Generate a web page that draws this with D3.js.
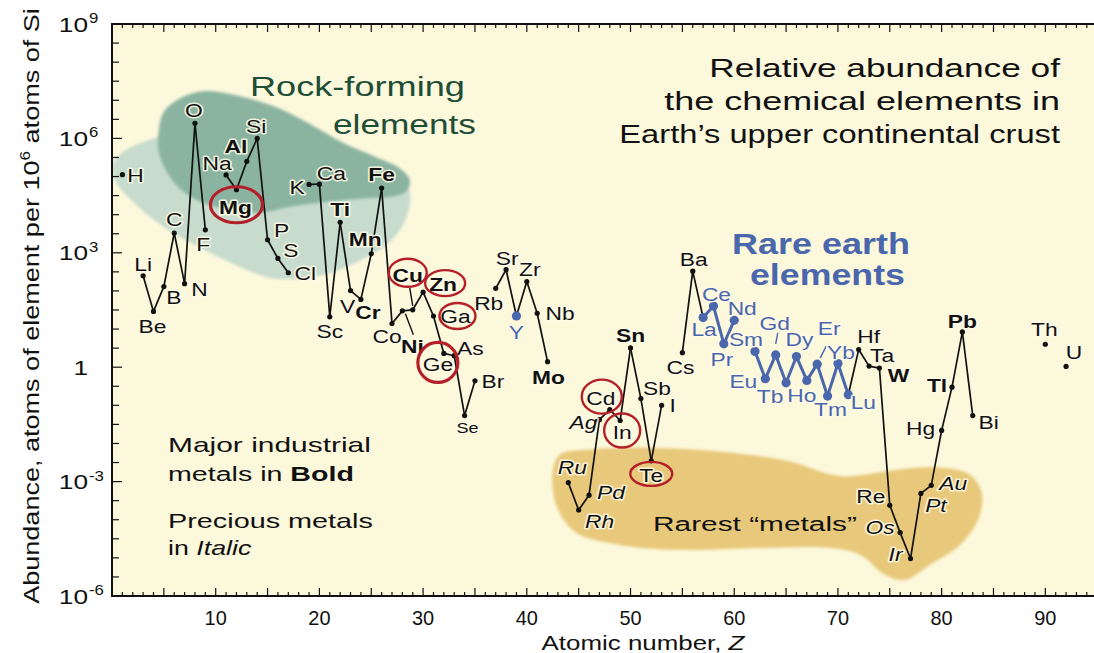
<!DOCTYPE html>
<html><head><meta charset="utf-8">
<script src="https://cdn.jsdelivr.net/npm/d3@7"></script>
<style>
body{margin:0;background:#fff;}
svg{display:block;font-family:"Liberation Sans",Arial,Helvetica,sans-serif;}
</style>
</head><body>
<svg id="chart" width="1094" height="653"></svg>
<script>
// ---------------- DATA ----------------
const symbols = ["H","Li","Be","B","C","N","O","F","Na","Mg","Al","Si","P","S","Cl","K","Ca","Sc","Ti","V","Cr","Mn","Fe","Co","Ni","Cu","Zn","Ga","Ge","As","Se","Br","Rb","Sr","Y","Zr","Nb","Mo","Ru","Rh","Pd","Ag","Cd","In","Sn","Sb","Te","I","Cs","Ba","La","Ce","Pr","Nd","Sm","Eu","Gd","Tb","Dy","Ho","Er","Tm","Yb","Lu","Hf","Ta","W","Re","Os","Ir","Pt","Au","Hg","Tl","Pb","Bi","Th","U"];
const atomicNumbers = [1,3,4,5,6,7,8,9,11,12,13,14,15,16,17,19,20,21,22,23,24,25,26,27,28,29,30,31,32,33,34,35,37,38,39,40,41,42,44,45,46,47,48,49,50,51,52,53,55,56,57,58,59,60,62,63,64,65,66,67,68,69,70,71,72,73,74,75,76,77,78,79,80,81,82,83,90,92];
// atoms of element per 10^6 atoms of Si
const abundances = [1.12e5,250,29,130,3300,155,2.5e6,4000,1.1e5,4.5e4,2.5e5,1e6,2200,710,300,6.2e4,6.3e4,21,6300,102,60,940,5.0e4,14,30,32,93,22,2.3,2.0,0.054,0.44,117,360,22,177,26,1.4,9.4e-4,1.8e-4,4.4e-4,0.042,0.077,0.040,3.2,0.15,3.5e-3,0.10,2.4,330,20,40,4.1,17,2.6,0.50,2.1,0.39,1.9,0.45,1.2,0.175,1.25,0.19,2.9,1.07,0.95,2.4e-4,4.6e-5,9.6e-6,4.9e-4,8.0e-4,0.022,0.30,8.4,0.054,4.0,1.05];

const boldSymbols = ["Mg","Al","Ti","Cr","Mn","Fe","Ni","Cu","Zn","Mo","Sn","W","Tl","Pb"];
const italicSymbols = ["Ru","Rh","Pd","Ag","Os","Ir","Pt","Au"];
const rareEarthSymbols = ["Y","La","Ce","Pr","Nd","Sm","Eu","Gd","Tb","Dy","Ho","Er","Tm","Yb","Lu"];
const circledSymbols = ["Mg","Cu","Zn","Ga","Ge","Cd","In","Te"];

const yTickValues = [1e-6,1e-3,1,1e3,1e6,1e9];
const yTickExponents = [-6,-3,0,3,6,9];
const xTickValues = [10,20,30,40,50,60,70,80,90];

// region outlines, in (Z, log10 abundance)
const rockLightRegion = [[0.1,5.34],[1.25,5.68],[3.18,5.92],[5.59,6.08],[14.27,5.74],[22.95,5.34],[27.77,5.0],[28.74,4.55],[28.25,3.84],[26.81,3.29],[23.91,2.79],[21.02,2.47],[18.13,2.32],[15.24,2.34],[12.34,2.63],[9.45,3.0],[6.85,3.37],[4.15,3.84],[1.74,4.42],[0.29,4.89]];
const rockDarkRegion = [[4.44,6.0],[4.92,6.66],[6.56,7.05],[8.97,7.24],[12.25,7.11],[15.62,6.84],[19.0,6.39],[22.37,5.87],[25.26,5.53],[27.77,5.21],[28.74,4.89],[28.35,4.61],[26.81,4.47],[23.9,4.42],[20.06,4.32],[17.16,4.21],[14.27,4.05],[11.86,4.11],[8.97,4.29],[6.56,4.68],[5.11,5.21],[4.44,5.74]];
const rarestRegion = [[42.53,-2.68],[43.2,-2.29],[46.09,-2.16],[51.88,-2.11],[58.63,-2.21],[65.38,-2.47],[70.2,-2.85],[75.89,-2.68],[79.85,-2.63],[82.74,-2.82],[83.9,-3.34],[83.51,-4.0],[81.77,-4.66],[78.88,-5.18],[76.47,-5.58],[74.54,-5.45],[72.13,-4.92],[69.24,-4.74],[62.49,-4.74],[54.77,-4.79],[48.99,-4.66],[44.65,-4.32],[42.82,-3.61]];

// ---------------- STYLE / LAYOUT ----------------
const labelOffsets = {H:[13,0],Li:[0,-12],Be:[-1,15],B:[10,11],C:[0,-14],N:[15,5],O:[-1,-13],F:[-2,14],Na:[-9,-12],Mg:[-1,17],Al:[-11,-15],Si:[-1,-12],P:[14,-10],S:[13,-8],Cl:[17,0],K:[-12,3],Ca:[12,-11],Sc:[0,14],Ti:[0,-13],V:[-3,16],Cr:[7,13],Mn:[-6,-15],Fe:[0,-14],Co:[-5,13],Ni:[10,35],Cu:[-5,-35],Zn:[20,-8],Ga:[22,0],Ge:[-6,11],As:[16,-8],Se:[3,12],Br:[18,0],Rb:[-7,15],Sr:[1,-12],Y:[0,16],Zr:[3,-12],Nb:[23,0],Mo:[1,16],Ru:[4,-15],Rh:[21,11],Pd:[22,-3],Ag:[-16,2],Cd:[-9,-12],In:[2,12],Sn:[0,-13],Sb:[16,-10],Te:[0,14],I:[11,0],Cs:[-2,14],Ba:[1,-12],La:[1,12],Ce:[3,-12],Pr:[-2,15],Nd:[8,-12],Sm:[-9,-12],Eu:[-22,2],Gd:[-1,-32],Tb:[-16,13],Dy:[3,-17],Ho:[-5,15],Er:[12,-36],Tm:[3,13],Yb:[3,-11],Lu:[15,7],Hf:[10,-13],Ta:[13,-11],W:[19,7],Re:[-19,-9],Os:[-20,-5],Ir:[-15,-4],Pt:[15,12],Au:[22,-2],Hg:[-21,-2],Tl:[-15,-2],Pb:[0,-11],Bi:[16,7],Th:[-1,-15],U:[8,-14]};
const circleShapes = {Mg:[1,-2,26,18],Cu:[0,-2,19,14],Zn:[2,-1,20,13],Ga:[2,0,18,13],Ge:[0,-2,20,20],Cd:[1,-1,20,17],In:[0,-2,18,17],Te:[0,-1,21,12]};
const leaders = {Cu:[-3,-22,0,-4],Ni:[3,3,11,24],Gd:[0,-11,2,-22],Er:[3,-6,9,-18]};

const CREAM = "#fcf8dc", DARKG = "#8ab4a0", LIGHTG = "#c7dccd", GOLD = "#e8c97c";
const BLUE = "#4a66ac", RED = "#b3202a";

const svg = d3.select("#chart");
const x = d3.scaleLinear().domain([0,94.5]).range([112,1092]);
const y = d3.scaleLog().domain([1e-6,1e9]).range([596,24]);

const defs = svg.append("defs");
defs.append("filter").attr("id","soft").attr("x","-10%").attr("y","-10%").attr("width","120%").attr("height","120%")
  .append("feGaussianBlur").attr("stdDeviation",1.6);

// plot background
svg.append("rect").attr("x",x(0)).attr("y",y(1e9)).attr("width",1094-x(0)).attr("height",y(1e-6)-y(1e9)).attr("fill",CREAM);

// regions
const regionLine = d3.line().x(d=>x(d[0])).y(d=>y(Math.pow(10,d[1]))).curve(d3.curveCatmullRomClosed.alpha(0.5));
svg.append("path").attr("d",regionLine(rockLightRegion)).attr("fill",LIGHTG).attr("filter","url(#soft)");
svg.append("path").attr("d",regionLine(rockDarkRegion)).attr("fill",DARKG).attr("filter","url(#soft)");
svg.append("path").attr("d",regionLine(rarestRegion)).attr("fill",GOLD).attr("filter","url(#soft)");

// helper to fit text width
function fit(sel, px, py, width, anchor, rot){
  sel.attr("text-anchor",anchor);
  const w = sel.node().getBBox().width;
  const s = width / w;
  sel.attr("transform",`translate(${px},${py})${rot?` rotate(${rot})`:""} scale(${s},1)`);
}
function addText(parent, parts, size, fill, weight){
  const t = parent.append("text").attr("font-size",size).attr("fill",fill||"#111");
  if(weight) t.attr("font-weight",weight);
  parts.forEach(p=>{
    const ts = t.append("tspan").text(p.t);
    if(p.b) ts.attr("font-weight","bold");
    if(p.i) ts.attr("font-style","italic");
  });
  return t;
}

// annotations
const ann = svg.append("g");
fit(addText(ann,[{t:"Rock-forming"}],27,"#1f4d36"),250,96,215,"start");
fit(addText(ann,[{t:"elements"}],27,"#1f4d36"),333,134,143,"start");
fit(addText(ann,[{t:"Relative abundance of"}],26,"#111"),1060,77,352,"end");
fit(addText(ann,[{t:"the chemical elements in"}],26,"#111"),1060,110,396,"end");
fit(addText(ann,[{t:"Earth\u2019s upper continental crust"}],26,"#111"),1060,143,442,"end");
fit(addText(ann,[{t:"Rare earth"}],30,BLUE,"bold"),732,254,178,"start");
fit(addText(ann,[{t:"elements"}],30,BLUE,"bold"),750,285,155,"start");
fit(addText(ann,[{t:"Major industrial"}],21,"#111"),168,452,203,"start");
fit(addText(ann,[{t:"metals in "},{t:"Bold",b:true}],21,"#111"),168,481,186,"start");
fit(addText(ann,[{t:"Precious metals"}],21,"#111"),168,528,205,"start");
fit(addText(ann,[{t:"in "},{t:"Italic",i:true}],21,"#111"),168,555,84,"start");
fit(addText(ann,[{t:"Rarest \u201cmetals\u201d"}],21,"#111"),653,531,204,"start");

// data
const data = symbols.map((s,i)=>({s, z:atomicNumbers[i], v:abundances[i],
  rare: rareEarthSymbols.includes(s)}));
data.forEach(d=>{d.px=x(d.z); d.py=y(d.v);});
const isLanth = d => d.rare && d.s!=="Y";

// line segments between consecutive atomic numbers
const segs = [];
for(let i=1;i<data.length;i++){
  const a=data[i-1], b=data[i];
  if(b.z-a.z===1) segs.push({a,b,blue:isLanth(a)&&isLanth(b)});
}
svg.append("g").selectAll("line").data(segs).join("line")
  .attr("x1",d=>d.a.px).attr("y1",d=>d.a.py).attr("x2",d=>d.b.px).attr("y2",d=>d.b.py)
  .attr("stroke",d=>d.blue?BLUE:"#111").attr("stroke-width",d=>d.blue?3:1.7);

// leader lines
svg.append("g").selectAll("line").data(data.filter(d=>leaders[d.s])).join("line")
  .attr("x1",d=>d.px+leaders[d.s][0]).attr("y1",d=>d.py+leaders[d.s][1])
  .attr("x2",d=>d.px+leaders[d.s][2]).attr("y2",d=>d.py+leaders[d.s][3])
  .attr("stroke",d=>d.rare?BLUE:"#111").attr("stroke-width",1.4);

// points
svg.append("g").selectAll("circle").data(data).join("circle")
  .attr("cx",d=>d.px).attr("cy",d=>d.py).attr("r",d=>d.rare?4.6:2.6)
  .attr("fill",d=>d.rare?BLUE:"#111");

// labels
const lab = svg.append("g");
data.forEach(d=>{
  const o = labelOffsets[d.s];
  const fs = d.s==="Se"?15:19;
  lab.append("text").text(d.s)
    .attr("font-size",fs).attr("text-anchor","middle").attr("dy","0.36em")
    .attr("fill",d.rare?BLUE:"#111")
    .attr("font-weight",boldSymbols.includes(d.s)?"bold":"normal")
    .attr("font-style",italicSymbols.includes(d.s)?"italic":"normal")
    .attr("stroke","#fffbe8").attr("stroke-width",3).attr("stroke-linejoin","round")
    .attr("stroke-opacity",0.85).attr("paint-order","stroke")
    .attr("transform",`translate(${d.px+o[0]},${d.py+o[1]}) scale(1.2,1)`);
});

// red circles
svg.append("g").selectAll("ellipse").data(data.filter(d=>circledSymbols.includes(d.s))).join("ellipse")
  .attr("cx",d=>d.px+labelOffsets[d.s][0]+circleShapes[d.s][0])
  .attr("cy",d=>d.py+labelOffsets[d.s][1]+circleShapes[d.s][1])
  .attr("rx",d=>circleShapes[d.s][2]).attr("ry",d=>circleShapes[d.s][3])
  .attr("fill","none").attr("stroke",RED).attr("stroke-width",d=>d.s==="Ge"||d.s==="Mg"?3.2:2.4);

// axes frame and ticks
const ax = svg.append("g").attr("stroke","#111");
const x0=x(0), yb=y(1e-6), yt=y(1e9);
ax.append("line").attr("x1",x0).attr("x2",1094).attr("y1",yb).attr("y2",yb).attr("stroke-width",2);
ax.append("line").attr("x1",x0).attr("x2",1094).attr("y1",yt).attr("y2",yt).attr("stroke-width",2);
ax.append("line").attr("x1",x0).attr("x2",x0).attr("y1",yt-1).attr("y2",yb+1).attr("stroke-width",2);
const zTicks = d3.range(1,95);
ax.selectAll(".xb").data(zTicks).join("line").attr("class","xb")
  .attr("x1",d=>x(d)).attr("x2",d=>x(d)).attr("y1",yb).attr("y2",d=>yb-(d%5===0?8:4)).attr("stroke-width",1.2);
ax.selectAll(".xt").data(zTicks).join("line").attr("class","xt")
  .attr("x1",d=>x(d)).attr("x2",d=>x(d)).attr("y1",yt).attr("y2",d=>yt+(d%5===0?8:4)).attr("stroke-width",1.2);
const yTicks = d3.range(-6,9.01,0.5);
ax.selectAll(".yl").data(yTicks).join("line").attr("class","yl")
  .attr("x1",x0).attr("x2",d=>x0+(d%3===0?10:7)).attr("y1",d=>y(Math.pow(10,d))).attr("y2",d=>y(Math.pow(10,d))).attr("stroke-width",1.2);

// tick labels
const tl = svg.append("g").attr("fill","#111");
yTickValues.forEach((v,i)=>{
  const e = yTickExponents[i], py = y(v);
  if(e===0){
    tl.append("text").text("1").attr("font-size",21).attr("text-anchor","end")
      .attr("transform",`translate(88,${py+7.5}) scale(1.25,1)`);
  } else {
    tl.append("text").text("10").attr("font-size",21).attr("text-anchor","end")
      .attr("transform",`translate(88,${py+7.5}) scale(1.25,1)`);
    tl.append("text").text(String(e)).attr("font-size",14).attr("text-anchor","start")
      .attr("transform",`translate(89,${py-1}) scale(1.2,1)`);
  }
});
xTickValues.forEach(v=>{
  tl.append("text").text(v).attr("font-size",21).attr("text-anchor","middle")
    .attr("transform",`translate(${x(v)},625) scale(0.95,1)`);
});

// axis titles
fit(addText(svg,[{t:"Atomic number, "},{t:"Z",i:true}],20,"#111"),643,650,204,"middle");
const yt2 = svg.append("text").attr("font-size",22).attr("fill","#111");
yt2.append("tspan").text("Abundance, atoms of element per 10");
yt2.append("tspan").text("6").attr("font-size",14).attr("dy",-9);
yt2.append("tspan").text(" atoms of Si").attr("font-size",22).attr("dy",9);
fit(yt2,39,306,596,"middle",-90);
</script>
</body></html>
